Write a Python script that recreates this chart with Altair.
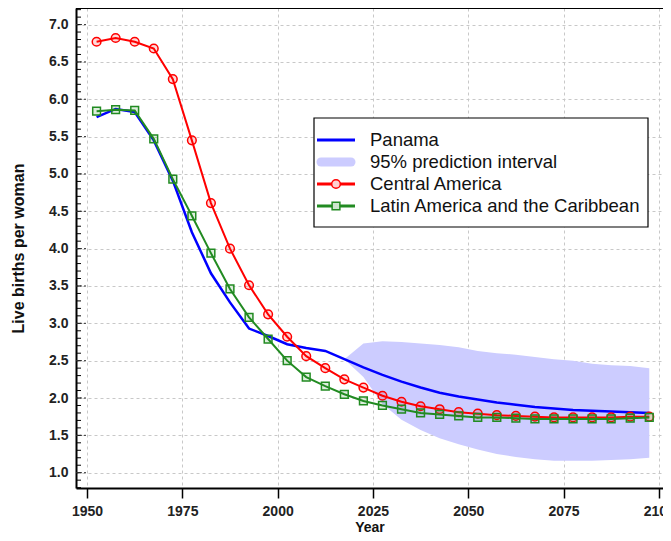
import altair as alt
import pandas as pd
import numpy as np

# ---------------- data ----------------
years = [1952.5, 1957.5, 1962.5, 1967.5, 1972.5, 1977.5, 1982.5, 1987.5, 1992.5, 1997.5,
         2002.5, 2007.5, 2012.5, 2017.5, 2022.5, 2027.5, 2032.5, 2037.5, 2042.5, 2047.5,
         2052.5, 2057.5, 2062.5, 2067.5, 2072.5, 2077.5, 2082.5, 2087.5, 2092.5, 2097.5]

panama = [5.76, 5.87, 5.83, 5.45, 4.91, 4.22, 3.67, 3.28, 2.93, 2.83,
          2.72, 2.67, 2.63, 2.52, 2.41, 2.31, 2.22, 2.14, 2.07, 2.02,
          1.98, 1.94, 1.91, 1.88, 1.86, 1.84, 1.83, 1.82, 1.81, 1.80]

central_america = [6.77, 6.82, 6.77, 6.68, 6.27, 5.45, 4.61, 4.00, 3.51, 3.12,
                   2.82, 2.56, 2.40, 2.25, 2.14, 2.03, 1.95, 1.89, 1.85, 1.81,
                   1.79, 1.77, 1.76, 1.75, 1.74, 1.74, 1.74, 1.74, 1.75, 1.75]

latin_america = [5.84, 5.86, 5.85, 5.47, 4.93, 4.44, 3.94, 3.46, 3.08, 2.79,
                 2.50, 2.28, 2.16, 2.05, 1.96, 1.90, 1.85, 1.80, 1.78, 1.76,
                 1.74, 1.74, 1.73, 1.72, 1.72, 1.72, 1.72, 1.72, 1.73, 1.74]

pi_years = [2017.5, 2022.5, 2027.5, 2032.5, 2037.5, 2042.5, 2047.5, 2052.5, 2057.5,
            2062.5, 2067.5, 2072.5, 2077.5, 2082.5, 2087.5, 2092.5, 2097.5]
pi_upper = [2.52, 2.73, 2.76, 2.75, 2.73, 2.71, 2.68, 2.63, 2.60,
            2.58, 2.55, 2.52, 2.50, 2.46, 2.44, 2.43, 2.40]
pi_lower = [2.52, 2.28, 1.92, 1.71, 1.57, 1.46, 1.38, 1.31, 1.25,
            1.21, 1.18, 1.16, 1.16, 1.16, 1.17, 1.18, 1.20]

x_ticks = [1950, 1975, 2000, 2025, 2050, 2075, 2100]
y_ticks = [1.0, 1.5, 2.0, 2.5, 3.0, 3.5, 4.0, 4.5, 5.0, 5.5, 6.0, 6.5, 7.0]
y_minor = [round(v, 1) for v in np.arange(0.8, 7.21, 0.1)]

legend_labels = ["Panama", "95% prediction interval", "Central America",
                 "Latin America and the Caribbean"]

# ---------------- style ----------------
FONT = "Liberation Sans"
BLUE = "#0000ff"
BAND = "#ccccff"
RED = "#ff0000"
GREEN = "#228b22"

W, H = 587, 480
xs = alt.Scale(domain=[1947.1, 2101.1], nice=False, zero=False)
ys = alt.Scale(domain=[0.795, 7.222], nice=False, zero=False)

xaxis = alt.Axis(values=x_ticks, format="d", labelFont=FONT, labelFontSize=14,
                 labelFontWeight="bold", labelColor="#222", tickSize=10, tickColor="#000",
                 tickWidth=1.5, domainColor="#000", domainWidth=2, labelPadding=6,
                 grid=True, gridColor="#c8c8c8", gridDash=[3, 3], gridWidth=1,
                 titleFont=FONT, titleFontSize=14, titleFontWeight="bold",
                 titleColor="#111", titlePadding=2, labelFlush=False)
yaxis = alt.Axis(values=y_ticks, format=".1f", labelFont=FONT, labelFontSize=14,
                 labelFontWeight="bold", labelColor="#222", ticks=False, tickSize=0,
                 domainColor="#000", domainWidth=2, labelPadding=8,
                 grid=True, gridColor="#c8c8c8", gridDash=[3, 3], gridWidth=1,
                 titleFont=FONT, titleFontSize=16, titleFontWeight="bold",
                 titleColor="#111", titlePadding=22)

X = alt.X("year:Q", scale=xs, axis=xaxis, title="Year")

df = pd.DataFrame({"year": years, "panama": panama, "central": central_america,
                   "latin": latin_america})
band_df = pd.DataFrame({"year": pi_years, "lo": pi_lower, "hi": pi_upper})
minor_df = pd.DataFrame({"v": y_minor})
major_df = pd.DataFrame({"v": y_ticks})


def Y(field):
    return alt.Y(field, scale=ys, axis=yaxis, title="Live births per woman")


band = alt.Chart(band_df).mark_area(color=BAND, opacity=1).encode(
    x=X, y=Y("lo:Q"), y2="hi:Q")

blue = alt.Chart(df).mark_line(color=BLUE, strokeWidth=2.5).encode(x=X, y=Y("panama:Q"))

red_line = alt.Chart(df).mark_line(color=RED, strokeWidth=2).encode(x=X, y=Y("central:Q"))
red_pts = alt.Chart(df).mark_point(shape="circle", size=75, filled=True, fill=RED,
                                   fillOpacity=0.15, stroke=RED, strokeWidth=1.5,
                                   opacity=1).encode(x=X, y=Y("central:Q"))

green_line = alt.Chart(df).mark_line(color=GREEN, strokeWidth=2).encode(x=X, y=Y("latin:Q"))
green_pts = alt.Chart(df).mark_point(shape="square", size=60, filled=True, fill=GREEN,
                                     fillOpacity=0.15, stroke=GREEN, strokeWidth=1.5,
                                     opacity=1).encode(x=X, y=Y("latin:Q"))

minor_ticks = alt.Chart(minor_df).mark_rule(color="#000", strokeWidth=1).encode(
    y=Y("v:Q"), x=alt.value(0), x2=alt.value(5))
major_ticks = alt.Chart(major_df).mark_rule(color="#333", strokeWidth=1,
                                            strokeDash=[2, 2]).encode(
    y=Y("v:Q"), x=alt.value(0), x2=alt.value(11))

one = pd.DataFrame({"a": [0]})
top_frame = alt.Chart(one).mark_rule(color="#000", strokeWidth=2).encode(
    x=alt.value(0), x2=alt.value(W), y=alt.value(0))

# ---------------- legend ----------------
LX0, LX1, LY0, LY1 = 238, 572, 110, 219
SX0, SX1, SXC, TX = 241, 279, 260, 294
rows = [132, 154, 176, 198]

leg = [alt.Chart(one).mark_rect(fill="white", stroke="#000", strokeWidth=1.2).encode(
    x=alt.value(LX0), x2=alt.value(LX1), y=alt.value(LY0), y2=alt.value(LY1))]
leg.append(alt.Chart(one).mark_rule(color=BLUE, strokeWidth=3).encode(
    x=alt.value(SX0), x2=alt.value(SX1), y=alt.value(rows[0])))
leg.append(alt.Chart(one).mark_rule(color=BAND, strokeWidth=9, strokeCap="round").encode(
    x=alt.value(SX0 + 4), x2=alt.value(SX1 - 4), y=alt.value(rows[1])))
leg.append(alt.Chart(one).mark_rule(color=RED, strokeWidth=3).encode(
    x=alt.value(SX0), x2=alt.value(SX1), y=alt.value(rows[2])))
leg.append(alt.Chart(one).mark_point(shape="circle", size=75, filled=True, fill="#ffd0d0",
                                     stroke=RED, strokeWidth=1.5, opacity=1).encode(
    x=alt.value(SXC), y=alt.value(rows[2])))
leg.append(alt.Chart(one).mark_rule(color=GREEN, strokeWidth=3).encode(
    x=alt.value(SX0), x2=alt.value(SX1), y=alt.value(rows[3])))
leg.append(alt.Chart(one).mark_point(shape="square", size=60, filled=True, fill="#cfe6cf",
                                     stroke=GREEN, strokeWidth=1.5, opacity=1).encode(
    x=alt.value(SXC), y=alt.value(rows[3])))
for lab, ry in zip(legend_labels, rows):
    leg.append(alt.Chart(one).mark_text(align="left", baseline="middle", font=FONT,
                                        fontSize=18.5, color="#111").encode(
        x=alt.value(TX), y=alt.value(ry), text=alt.value(lab)))

chart = alt.layer(band, blue, red_line, red_pts, green_line, green_pts,
                  minor_ticks, major_ticks, top_frame, *leg).properties(
    width=W, height=H,
    padding={"left": 68, "top": 0, "right": 0, "bottom": 45},
    autosize=alt.AutoSizeParams(type="none"),
    background="white",
).configure_view(stroke=None)

chart.save("out.html", embed_options={"renderer": "svg", "actions": False})
